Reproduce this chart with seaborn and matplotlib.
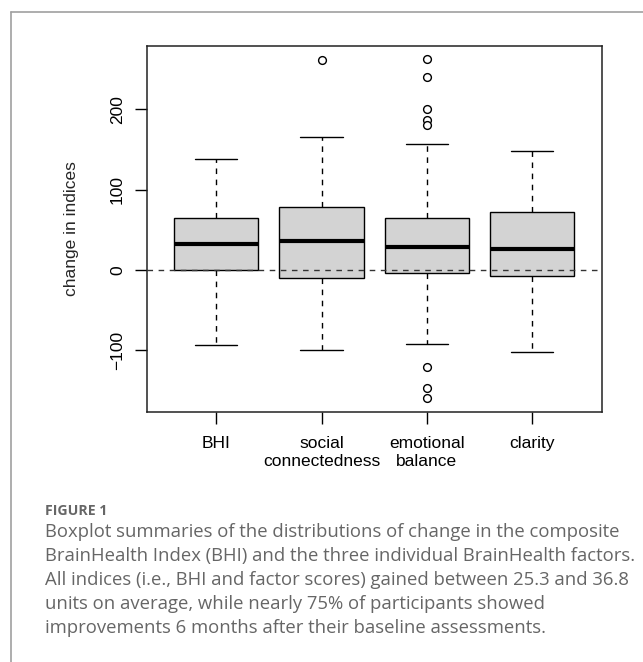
import matplotlib
matplotlib.use("Agg")
import matplotlib.pyplot as plt
from matplotlib.lines import Line2D
import seaborn as sns

# values
groups = ["BHI", "social\nconnectedness", "emotional\nbalance", "clarity"]
whisker_low = [-93.0, -99.8, -92.6, -102.2]
q1 = [0.0, -10.0, -4.1, -7.5]
median = [32.4, 36.2, 28.3, 25.8]
q3 = [64.1, 78.2, 64.1, 71.9]
whisker_high = [138.4, 165.8, 156.7, 148.4]

outlier_group = ["social\nconnectedness",
                 "emotional\nbalance", "emotional\nbalance", "emotional\nbalance",
                 "emotional\nbalance", "emotional\nbalance", "emotional\nbalance",
                 "emotional\nbalance", "emotional\nbalance"]
outlier_value = [261.5,
                 262.3, 240.3, 200.4, 186.3, 180.0, -121.0, -147.5, -160.0]

y_ticks = [-100, 0, 100, 200]

caption_title = "FIGURE 1"
caption_lines = [
    "Boxplot summaries of the distributions of change in the composite",
    "BrainHealth Index (BHI) and the three individual BrainHealth factors.",
    "All indices (i.e., BHI and factor scores) gained between 25.3 and 36.8",
    "units on average, while nearly 75% of participants showed",
    "improvements 6 months after their baseline assessments.",
]

sns.set_style("white")
plt.rcParams['font.family'] = ['Liberation Sans', 'DejaVu Sans']

W, H = 643, 662
fig = plt.figure(figsize=(W / 100, H / 100), dpi=100)
ax = fig.add_axes([146.7 / W, 1 - 412 / H, 455 / W, (412 - 45.7) / H])

stats = []
for i, g in enumerate(groups):
    stats.append({"label": g, "whislo": whisker_low[i], "q1": q1[i], "med": median[i],
                  "q3": q3[i], "whishi": whisker_high[i], "fliers": []})

ax.bxp(stats, positions=range(len(groups)), widths=0.8, patch_artist=True,
       manage_ticks=False, showfliers=False,
       boxprops=dict(facecolor="#d3d3d3", edgecolor="black", linewidth=1),
       medianprops=dict(color="black", linewidth=3, solid_capstyle="butt"),
       whiskerprops=dict(color="black", linewidth=1, linestyle=(0, (4, 4))),
       capprops=dict(color="black", linewidth=1))

sns.stripplot(x=outlier_group, y=outlier_value, order=groups, jitter=False,
              color="white", edgecolor="black", linewidth=1, size=5.6,
              ax=ax, zorder=4)

ax.axhline(0, color="#333333", linewidth=1, linestyle=(0, (4, 4)), zorder=5)

ax.set_xlim(-0.66, 3.66)
ax.set_ylim(-176.9, 279.2)
ax.set_xticks(range(len(groups)))
ax.set_xticklabels(groups, fontsize=12.5)
ax.set_yticks(y_ticks)
ax.set_yticklabels([f"{t}".replace("-", "\u2212") for t in y_ticks], fontsize=12.5,
                   rotation=90, va="center")
ax.tick_params(axis="both", direction="out", length=8.6, width=1, color="black",
               labelcolor="black", bottom=True, left=True)
ax.tick_params(axis="x", pad=9)
ax.tick_params(axis="y", pad=7)
for sp in ax.spines.values():
    sp.set_visible(True)
    sp.set_color("#222222")
    sp.set_linewidth(1.1)
ax.grid(False)
ax.set_xlabel("")
ax.set_ylabel("")

fig.text(71.5 / W, 1 - 229 / H, "change in indices", rotation=90, ha="center",
         va="center", fontsize=12.5)

# panel frame (left and top edges)
frame_color = "#a0a0a0"
fig.add_artist(Line2D([11 / W, 11 / W], [0, 1 - 12 / H], transform=fig.transFigure,
                      color=frame_color, linewidth=1.2))
fig.add_artist(Line2D([11 / W, 1], [1 - 12 / H, 1 - 12 / H], transform=fig.transFigure,
                      color=frame_color, linewidth=1.2))

cap_font = ['Open Sans', 'DejaVu Sans']
fig.text(45 / W, 1 - 515 / H, caption_title, ha="left", va="baseline",
         fontsize=10.2, fontweight="bold", color="#666666", family=cap_font)
for k, line in enumerate(caption_lines):
    fig.text(45 / W, 1 - (537 + 24 * k) / H, line, ha="left", va="baseline",
             fontsize=13.3, color="#666666", family=cap_font)

fig.savefig("out.png", dpi=100)
